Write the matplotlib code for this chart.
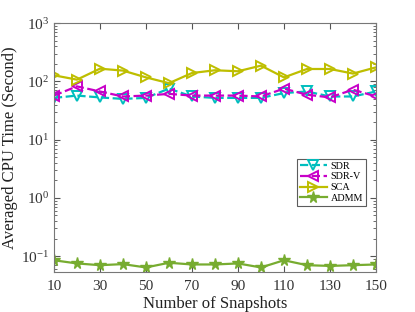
import matplotlib
matplotlib.use("Agg")
import matplotlib.pyplot as plt
from matplotlib.ticker import LogLocator, NullFormatter

# values
snapshots = [10, 20, 30, 40, 50, 60, 70, 80, 90, 100, 110, 120, 130, 140, 150]
sdr = [52, 57, 53, 50, 52, 75, 55, 52, 52, 52, 63, 67, 55, 55, 67]
sdr_v = [57, 82, 67, 55, 57, 61, 57, 57, 57, 55, 75, 59, 53, 72, 55]
sca = [127, 107, 165, 153, 117, 93, 139, 155, 149, 186, 117, 163, 163, 136, 174]
admm = [0.085, 0.075, 0.070, 0.073, 0.064, 0.077, 0.072, 0.072, 0.075,
        0.064, 0.085, 0.070, 0.068, 0.070, 0.072]
xticks = [10, 30, 50, 70, 90, 110, 130, 150]

plt.rcParams["font.family"] = ["Liberation Serif", "DejaVu Serif"]
plt.rcParams["mathtext.fontset"] = "stix"

fig = plt.figure(figsize=(4.15, 3.12), dpi=100)
ax = fig.add_axes([0.130, 0.129, 0.776, 0.797])

ax.plot(snapshots, sdr, "--", color="#00bebe", lw=1.6, marker="v", ms=7,
        mfc="none", mew=1.4, label="SDR")
ax.plot(snapshots, sdr_v, "--", color="#c800c8", lw=1.6, marker="<", ms=7,
        mfc="none", mew=1.4, label="SDR-V")
ax.plot(snapshots, sca, "-", color="#bebe00", lw=1.6, marker=">", ms=7,
        mfc="none", mew=1.4, label="SCA")
ax.plot(snapshots, admm, "-", color="#77ac30", lw=1.6, marker="*", ms=8.5,
        label="ADMM")

ax.set_yscale("log")
ax.set_xlim(10, 150)
ax.set_ylim(0.054, 1000)
ax.set_xticks(xticks)
ax.yaxis.set_major_locator(LogLocator(base=10, numticks=10))
ax.yaxis.set_minor_locator(LogLocator(base=10, subs=range(2, 10), numticks=10))
ax.yaxis.set_minor_formatter(NullFormatter())
ax.tick_params(which="both", direction="in", top=True, right=True,
               color="#555555", labelsize=11, labelcolor="#333333")
ax.tick_params(which="major", length=4)
ax.tick_params(which="minor", length=2)
ax.tick_params(axis="x", pad=6)
for s in ax.spines.values():
    s.set_color("#777777")

ax.set_xlabel("Number of Snapshots", fontsize=12, color="#222222", labelpad=2)
ax.set_ylabel("Averaged CPU Time (Second)", fontsize=12, color="#222222", labelpad=2)

leg = ax.legend(loc="upper right", bbox_to_anchor=(0.985, 0.475), fontsize=7.3,
                frameon=True, fancybox=False, edgecolor="#333333",
                borderpad=0.3, labelspacing=0.15, handlelength=2.6,
                handletextpad=0.4)
leg.get_frame().set_linewidth(0.8)

fig.savefig("out.png", dpi=100)
